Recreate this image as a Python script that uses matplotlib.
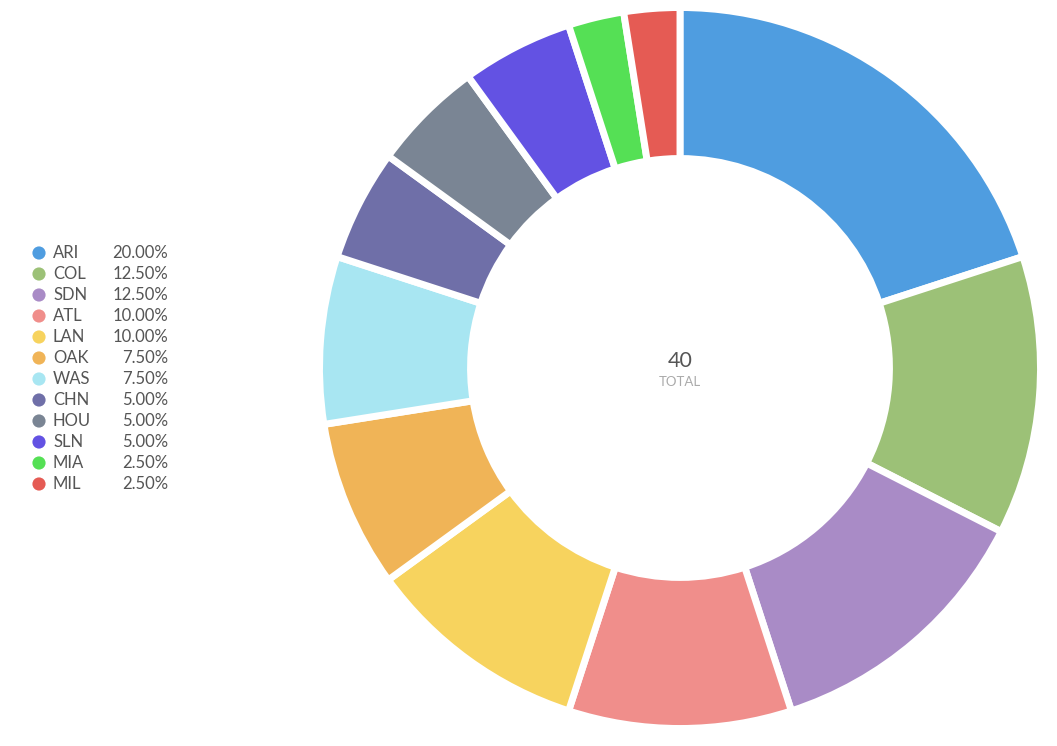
import matplotlib
matplotlib.use("Agg")
import matplotlib.pyplot as plt

plt.rcParams['font.family'] = ['Lato', 'DejaVu Sans']

teams = ["ARI", "COL", "SDN", "ATL", "LAN", "OAK", "WAS", "CHN", "HOU", "SLN", "MIA", "MIL"]
counts = [8, 5, 5, 4, 4, 3, 3, 2, 2, 2, 1, 1]
colors = ["#4f9de0", "#9cc177", "#a98bc6", "#f08e8b", "#f7d35e", "#f0b457",
          "#a8e6f2", "#6f6fa8", "#7a8594", "#6352e3", "#55e055", "#e55b54"]

total = sum(counts)
W, H = 1057, 746
fig = plt.figure(figsize=(W / 100, H / 100), dpi=100)

# donut, centre around (680, 368) px
R = 360.5
ax = fig.add_axes([(680 - R) / W, 1 - (368 + R) / H, 2 * R / W, 2 * R / H])
ax.pie(counts, colors=colors, startangle=90, counterclock=False, radius=1.0,
       wedgeprops=dict(width=0.419, edgecolor="white", linewidth=5))
ax.set_xlim(-1, 1)
ax.set_ylim(-1, 1)
ax.set_aspect("equal")
ax.axis("off")
ax.text(0, 0.019, str(total), ha="center", va="center", fontsize=15.5, color="#555555")
ax.text(0, -0.039, "TOTAL", ha="center", va="center", fontsize=9.5, color="#aaaaaa")

# legend
lg = fig.add_axes([0, 0, 1, 1])
lg.set_xlim(0, W)
lg.set_ylim(H, 0)
lg.axis("off")
for i, (t, c, col) in enumerate(zip(teams, counts, colors)):
    y = 253 + i * 21
    lg.scatter([39], [y], s=90, color=col, edgecolors="none")
    lg.text(53, y, t, ha="left", va="center", fontsize=12, color="#555555")
    lg.text(168, y, "%.2f%%" % (100.0 * c / total), ha="right", va="center",
            fontsize=12, color="#555555")

fig.savefig("out.png", dpi=100, facecolor="white")
